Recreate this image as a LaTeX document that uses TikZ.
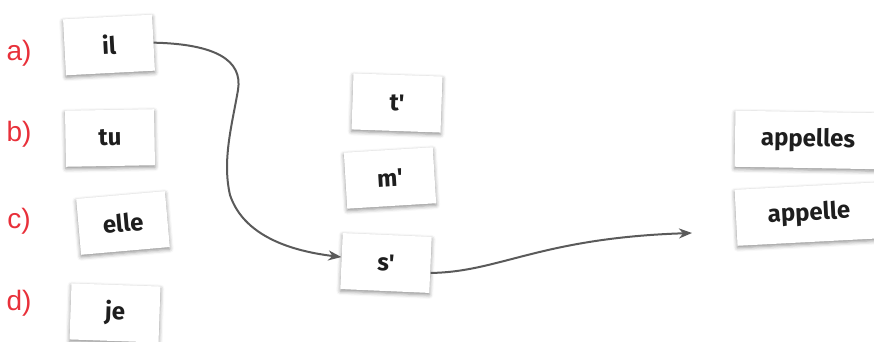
\documentclass[tikz,border=0pt]{standalone}
\usepackage{fontspec}
\newfontfamily\cardfont{Fira Sans}
\newfontfamily\labfont{Liberation Sans}
\usetikzlibrary{arrows.meta,shadows.blur}
\definecolor{labred}{RGB}{232,48,58}
\definecolor{linegray}{RGB}{90,90,90}
\definecolor{ink}{RGB}{30,30,30}
\begin{document}
\begin{tikzpicture}[x=1pt,y=-1pt,
  card/.style={fill=white, minimum width=89pt, minimum height=56pt, inner sep=0pt,
    font=\cardfont\bfseries\fontsize{24}{27}\selectfont, text=ink,
    blur shadow={shadow xshift=0pt, shadow yshift=-2pt, shadow blur radius=4pt, shadow opacity=45}},
  widecard/.style={card, minimum width=146pt},
  lab/.style={font=\labfont\fontsize{28}{32}\selectfont, text=labred, inner sep=0pt},
  conn/.style={draw=linegray, line width=2pt, -{Stealth[length=13pt,width=10pt,inset=4pt]}}]
\useasboundingbox (0,0) rectangle (874,342);
\node[lab] (la) at (19,53) {a)};
\node[lab] (lb) at (19,134) {b)};
\node[lab] (lc) at (19,221) {c)};
\node[lab] (ld) at (19,303) {d)};
\node[card, rotate=3] (il) at (109,45) {il};
\node[card, rotate=1] (tu) at (110,138) {tu};
\node[card, rotate=5] (elle) at (123,223) {elle};
\node[card, rotate=-2] (je) at (115,313) {je};
\node[card, rotate=-2] (t) at (397,103) {t'};
\node[card, rotate=3.5] (m) at (390,178) {m'};
\node[card, rotate=-2.5] (s) at (386,263) {s'};
\node[widecard, rotate=-1] (appelles) at (808,140) {appelles};
\node[widecard, rotate=3] (appelle) at (809,214) {appelle};
\coordinate (tip) at (692,233);
\draw[conn] (il.east) .. controls (215,44) and (243,60) .. (238,90)
  .. controls (232,125) and (222,160) .. (230,195)
  .. controls (245,240) and (300,252) .. ([yshift=4pt]s.west);
\draw[conn] ([yshift=-8pt]s.east) .. controls (500,272) and (540,238) .. (tip);
\end{tikzpicture}
\end{document}
